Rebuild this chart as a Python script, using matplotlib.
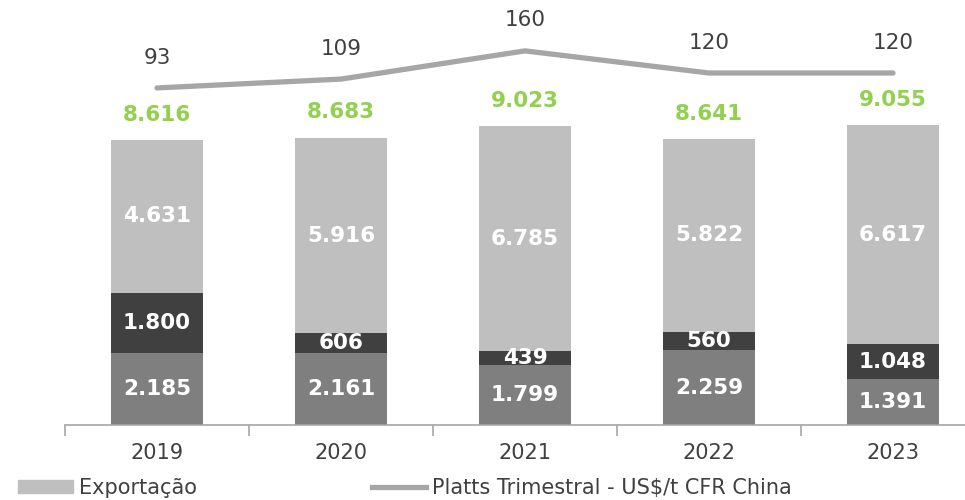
import os
import matplotlib
matplotlib.use('Agg')
import matplotlib.pyplot as plt
from matplotlib.patches import Patch
from matplotlib.lines import Line2D
from matplotlib.font_manager import FontProperties

# Data
years = ['2019', '2020', '2021', '2022', '2023']
base = [2185, 2161, 1799, 2259, 1391]
middle = [1800, 606, 439, 560, 1048]
exportacao = [4631, 5916, 6785, 5822, 6617]
totals = [8616, 8683, 9023, 8641, 9055]
platts = [93, 109, 160, 120, 120]

ttf = os.path.join(matplotlib.get_data_path(), 'fonts', 'ttf')
reg = os.path.join(ttf, 'DejaVuSans.ttf')
bold = os.path.join(ttf, 'DejaVuSans-Bold.ttf')


def fp(path, size):
    return FontProperties(fname=path, size=size)


def fmt(v):
    return f'{v:,}'.replace(',', '.')


fig = plt.figure(figsize=(9.65, 5.0), dpi=100)
ax = fig.add_axes([65 / 965, 0.15, 920 / 965, 0.85])
x = list(range(len(years)))

c_base, c_mid, c_top = '#7F7F7F', '#404040', '#BFBFBF'
ax.bar(x, base, width=0.5, color=c_base)
ax.bar(x, middle, width=0.5, bottom=base, color=c_mid)
bot3 = [b + m for b, m in zip(base, middle)]
ax.bar(x, exportacao, width=0.5, bottom=bot3, color=c_top)

for i in x:
    ax.text(i, base[i] / 2, fmt(base[i]), color='white', ha='center', va='center',
            fontproperties=fp(bold, 15.5))
    ax.text(i, base[i] + middle[i] / 2, fmt(middle[i]), color='white', ha='center', va='center',
            fontproperties=fp(bold, 15.5))
    ax.text(i, bot3[i] + exportacao[i] / 2, fmt(exportacao[i]), color='white', ha='center',
            va='center', fontproperties=fp(bold, 15.5))
    ax.text(i, totals[i] + 760, fmt(totals[i]), color='#92D050', ha='center', va='center',
            fontproperties=fp(bold, 15.5))

ax.set_xlim(-0.5, 4.5)
ax.set_ylim(0, 425 / 0.0331)

for s in ['top', 'right', 'left']:
    ax.spines[s].set_visible(False)
ax.spines['bottom'].set_color('#A6A6A6')
ax.spines['bottom'].set_linewidth(1.2)
ax.set_yticks([])
ax.set_xticks([i - 0.5 for i in range(6)])
ax.set_xticklabels([])
ax.tick_params(axis='x', direction='out', length=8, color='#A6A6A6', width=1.2)
for i, y in enumerate(years):
    ax.text(i, -0.065, y, transform=ax.get_xaxis_transform(), ha='center', va='center',
            color='#404040', fontproperties=fp(reg, 15))

# price line on its own scale
ax2 = ax.twinx()
ax2.set_ylim(-516.5, 252)
ax2.plot(x, platts, color='#A6A6A6', linewidth=3.8, solid_capstyle='round')
for i in x:
    ax2.text(i, platts[i] + 55, str(platts[i]), ha='center', va='center',
             color='#404040', fontproperties=fp(reg, 15.5))
ax2.axis('off')

handles = [Patch(color=c_top), Line2D([0], [0], color='#A6A6A6', linewidth=3.8)]
fig.legend(handles, ['Exportação', 'Platts Trimestral - US$/t CFR China'],
           loc='center left', bbox_to_anchor=(0.019, 0.024), ncol=2, frameon=False,
           prop=fp(reg, 15), labelcolor='#404040',
           handlelength=2.6, handleheight=0.6, handletextpad=0.3,
           columnspacing=8.4, borderaxespad=0, borderpad=0)

fig.savefig('out.png', dpi=100)
